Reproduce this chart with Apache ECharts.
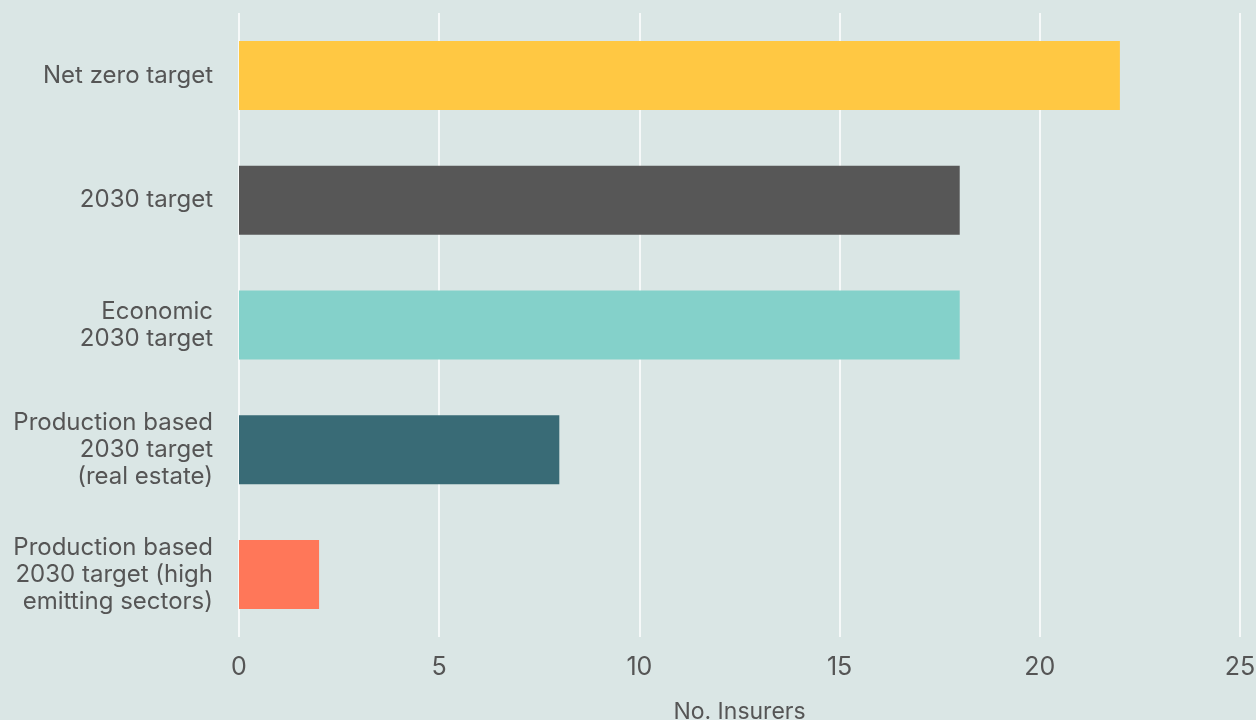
<!DOCTYPE html>
<html>
<head>
<meta charset="utf-8">
<script src="https://cdn.jsdelivr.net/npm/echarts@6/dist/echarts.min.js"></script>
<style>
  html, body { margin: 0; padding: 0; background: #dae6e5; }
  #chart { width: 1256px; height: 720px; }
</style>
</head>
<body>
<div id="chart"></div>
<script>
// top to bottom as in the picture
var categories = [
  'Net zero target',
  '2030 target',
  'Economic\n2030 target',
  'Production based\n2030 target\n(real estate)',
  'Production based\n2030 target (high\nemitting sectors)'
]
var values = [22, 18, 18, 8, 2]
var colors = ['#ffc843', '#575757', '#84d1ca', '#396b76', '#ff7759']
var xTicks = [0, 5, 10, 15, 20, 25]

var font = 'Inter, "Noto Sans", sans-serif'
var myChart = echarts.init(document.getElementById('chart'))

var option = {
  backgroundColor: '#dae6e5',
  animation: false,
  grid: {
    left: 239,
    right: 16,
    top: 13,
    bottom: 83,
    containLabel: false,
    outerBoundsMode: 'none'
  },
  xAxis: {
    type: 'value',
    min: xTicks[0],
    max: xTicks[xTicks.length - 1],
    interval: 5,
    axisLine: { show: false },
    axisTick: { show: false },
    splitLine: { show: true, lineStyle: { color: '#ffffff', width: 1.5 } },
    axisLabel: { color: '#555555', fontSize: 25, fontFamily: font, margin: 18 },
    name: 'No. Insurers',
    nameLocation: 'middle',
    nameGap: 64,
    nameTextStyle: { color: '#555555', fontSize: 23, fontFamily: font }
  },
  yAxis: {
    type: 'category',
    inverse: true,
    data: categories,
    axisLine: { show: false },
    axisTick: { show: false },
    axisLabel: {
      color: '#555555',
      fontSize: 24,
      lineHeight: 27,
      fontFamily: font,
      margin: 26,
      align: 'right'
    }
  },
  series: [{
    type: 'bar',
    barWidth: 69,
    data: values.map(function (v, i) {
      return { value: v, itemStyle: { color: colors[i] } }
    })
  }]
}

myChart.setOption(option)
</script>
</body>
</html>
